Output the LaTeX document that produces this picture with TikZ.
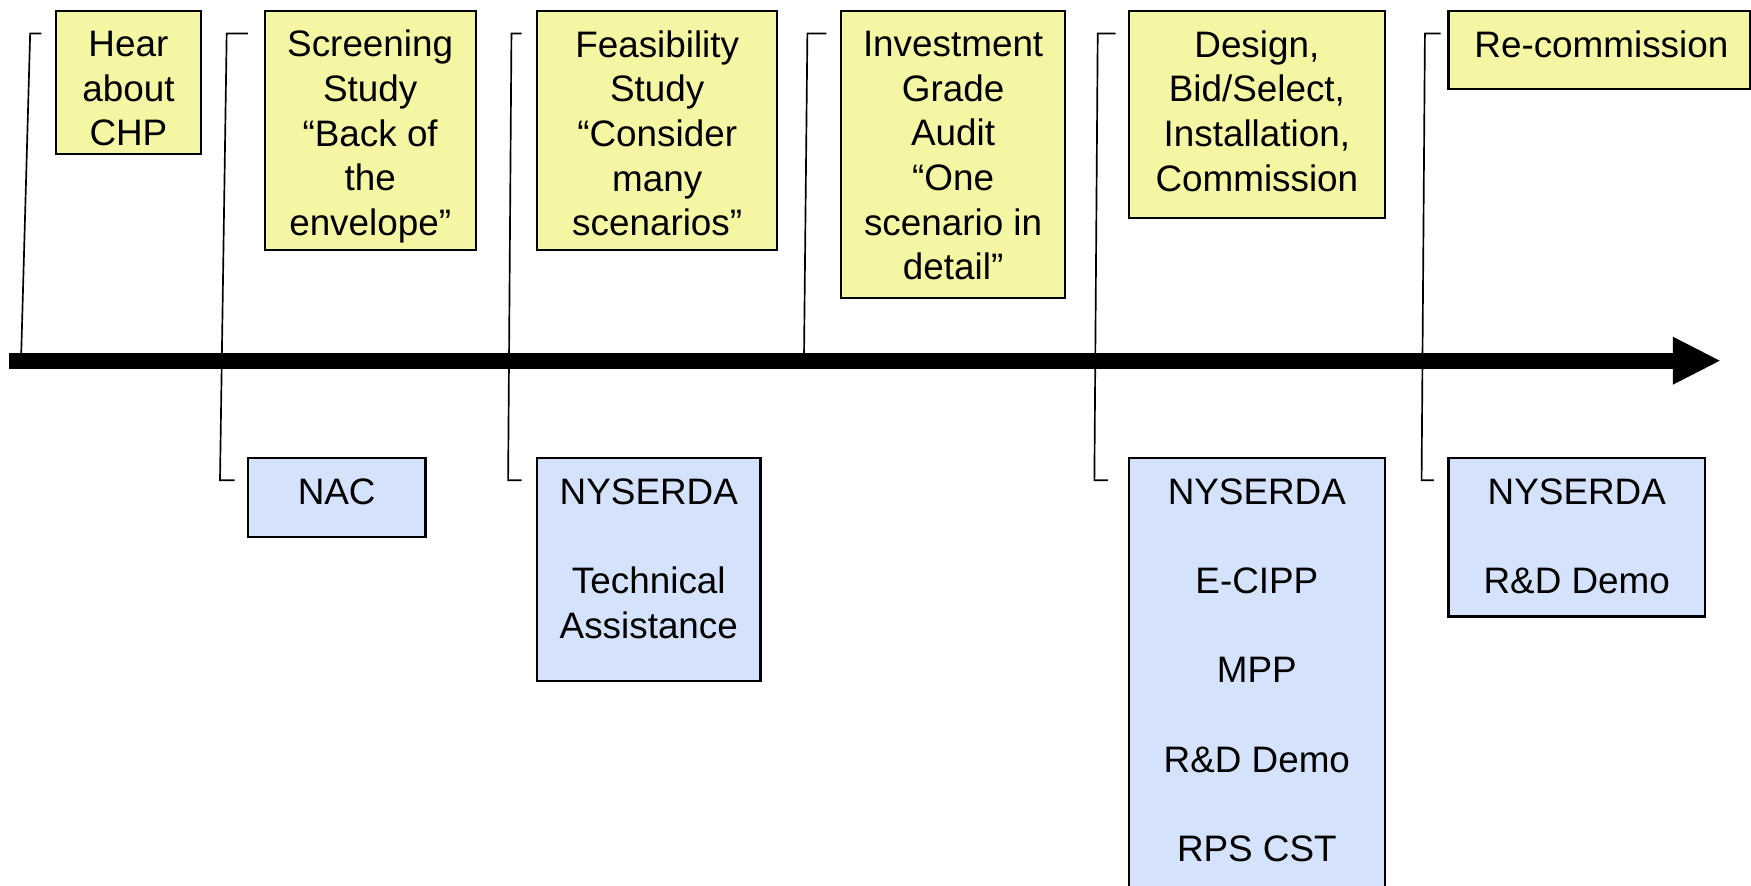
\documentclass[tikz,border=0pt]{standalone}
\usepackage{fontspec}
\setmainfont{Liberation Sans}
\usetikzlibrary{calc}
\definecolor{stageyellow}{RGB}{245,246,163}
\definecolor{fundblue}{RGB}{213,226,251}
\begin{document}
\begin{tikzpicture}[x=0.5pt,y=-0.5pt,
  txt/.style={font=\fontsize{16.5}{20}\selectfont, align=center, inner sep=0pt},
  stagebox/.style={draw=black, line width=1pt, fill=stageyellow},
  fundbox/.style={draw=black, line width=1pt, fill=fundblue},
  callout/.style={draw=black, line width=0.75pt}
]
\useasboundingbox (0,0) rectangle (1568,793);

% timeline
\coordinate (tl) at (8,323);
\coordinate (tb) at (1498,323);
\coordinate (tip) at (1540,323);
\fill[black] ($(tl)+(0,-7)$) rectangle ($(tb)+(1,7)$);
\fill[black] ($(tb)+(0,-21.5)$) -- (tip) -- ($(tb)+(0,21.5)$) -- cycle;

% top stage boxes
\draw[stagebox] (50,10) rectangle (180,138);
\node[txt] (hear) at (115,79.5) {Hear\\about\\CHP};
\draw[stagebox] (237,10) rectangle (426,224);
\node[txt] (scr) at (331.5,122.5) {Screening\\Study\\“Back of\\the\\envelope”};
\draw[stagebox] (481,10) rectangle (696,224);
\node[txt] (feas) at (588.5,119.5) {Feasibility\\Study\\“Consider\\many\\scenarios”};
\draw[stagebox] (753,10) rectangle (954,267);
\node[txt] (inv) at (853.5,139.5) {Investment\\Grade\\Audit\\“One\\scenario in\\detail”};
\draw[stagebox] (1011,10) rectangle (1240,195);
\node[txt] (des) at (1125.5,99.5) {Design,\\Bid/Select,\\Installation,\\Commission};
\draw[stagebox] (1297,10) rectangle (1567,80);
\node[txt] (rec) at (1434,40) {Re-commission};

% bottom funding boxes
\draw[fundbox] (222,410) rectangle (381,481);
\node[txt] (nac) at (301.5,440) {NAC};
\draw[fundbox] (481,410) rectangle (681,610);
\node[txt, anchor=north] (ny1) at (581,428) {NYSERDA\\[20pt]Technical\\Assistance};
\draw[fundbox] (1011,410) rectangle (1240,800);
\node[txt, anchor=north] (ny2) at (1125.5,428) {NYSERDA\\[20pt]E-CIPP\\[20pt]MPP\\[20pt]R\&D Demo\\[20pt]RPS CST};
\draw[fundbox] (1297,410) rectangle (1527,552);
\node[txt, anchor=north] (ny3) at (1412,428) {NYSERDA\\[20pt]R\&D Demo};

% callout lines
\coordinate (a1) at (37,30);  \coordinate (a2) at (27,30);  \coordinate (a3) at (19,317);
\draw[callout] (a1) -- (a2) -- (a3);
\coordinate (b1) at (222,30); \coordinate (b2) at (203,30); \coordinate (b3) at (197,430); \coordinate (b4) at (210,430);
\draw[callout] (b1) -- (b2) -- (b3) -- (b4);
\coordinate (c1) at (467,30); \coordinate (c2) at (458,30); \coordinate (c3) at (455,430); \coordinate (c4) at (467,430);
\draw[callout] (c1) -- (c2) -- (c3) -- (c4);
\coordinate (d1) at (740,30); \coordinate (d2) at (723,30); \coordinate (d3) at (720,317);
\draw[callout] (d1) -- (d2) -- (d3);
\coordinate (e1) at (999,30); \coordinate (e2) at (983,30); \coordinate (e3) at (980,430); \coordinate (e4) at (992,430);
\draw[callout] (e1) -- (e2) -- (e3) -- (e4);
\coordinate (f1) at (1290,30); \coordinate (f2) at (1276,30); \coordinate (f3) at (1273,430); \coordinate (f4) at (1284,430);
\draw[callout] (f1) -- (f2) -- (f3) -- (f4);
\end{tikzpicture}
\end{document}
